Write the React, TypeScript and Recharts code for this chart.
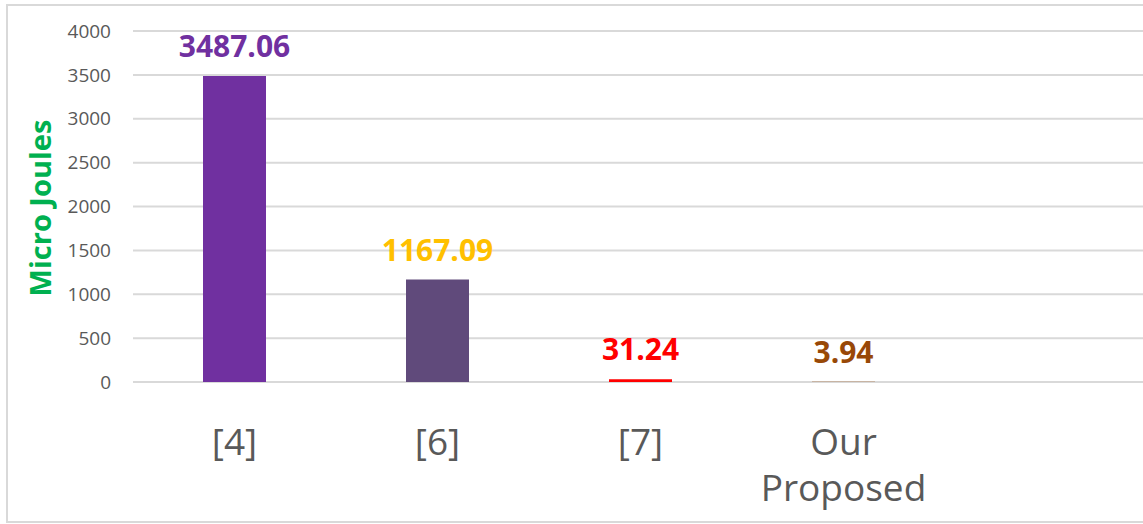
import React from 'react';
import { BarChart, Bar, XAxis, YAxis, CartesianGrid, Cell, LabelList } from 'recharts';

const categories = ['[4]', '[6]', '[7]', 'Our Proposed', ''];
const energyValues: (number | null)[] = [3487.06, 1167.09, 31.24, 3.94, null];
const barColors = ['#7030A0', '#604A7B', '#FF0000', '#984807', '#984807'];
const labelColors = ['#7030A0', '#FFC000', '#FF0000', '#984807', '#984807'];
const yTicks = [0, 500, 1000, 1500, 2000, 2500, 3000, 3500, 4000];
const yAxisTitle = 'Micro Joules';

const data = categories.map((c, i) => ({ name: c, value: energyValues[i] }));

const FONT = '"Open Sans", "Noto Sans", sans-serif';

const CategoryTick = (props: any) => {
  const { x, y, payload } = props;
  const words = String(payload.value).split(' ').filter((w) => w.length > 0);
  return (
    <g>
      {words.map((w, i) => (
        <text
          key={i}
          x={x}
          y={y + 73 + i * 46}
          textAnchor="middle"
          fill="#595959"
          fontSize={37}
          fontFamily={FONT}
        >
          {w}
        </text>
      ))}
    </g>
  );
};

const ValueLabel = (props: any) => {
  const { x, y, width, value, index } = props;
  if (value === null || value === undefined) return null;
  return (
    <text
      x={Number(x) + Number(width) / 2}
      y={Number(y) - 19}
      textAnchor="middle"
      fill={labelColors[index]}
      fontSize={30}
      fontWeight="bold"
      fontFamily={FONT}
    >
      {Number(value).toFixed(2)}
    </text>
  );
};

const YTitle = () => (
  <text
    x={51}
    y={208}
    transform="rotate(-90, 51, 208)"
    textAnchor="middle"
    fill="#00B050"
    fontSize={29}
    fontWeight="bold"
    fontFamily={FONT}
  >
    {yAxisTitle}
  </text>
);

export default function App() {
  return (
    <div
      style={{
        position: 'fixed',
        left: 0,
        top: 0,
        width: 1143,
        height: 524,
        overflow: 'hidden',
        background: '#ffffff',
      }}
    >
      <div
        style={{
          position: 'absolute',
          left: 6,
          top: 4,
          width: 1160,
          height: 519,
          border: '2px solid #d9d9d9',
          boxSizing: 'border-box',
        }}
      />
      <div style={{ position: 'absolute', left: 0, top: 0 }}>
        <BarChart
          width={1150}
          height={524}
          data={data}
          margin={{ top: 31, right: 2, bottom: 0, left: 0 }}
          barSize={63}
        >
          <CartesianGrid vertical={false} stroke="#d9d9d9" strokeWidth={2} />
          <XAxis
            dataKey="name"
            axisLine={false}
            tickLine={false}
            tickSize={0}
            tickMargin={0}
            height={142}
            interval={0}
            tick={<CategoryTick />}
          />
          <YAxis
            domain={[0, 4000]}
            ticks={yTicks}
            width={133}
            axisLine={false}
            tickLine={false}
            tickSize={0}
            tickMargin={22}
            tick={{ fill: '#595959', fontSize: 19, fontFamily: FONT }}
            label={<YTitle />}
          />
          <Bar dataKey="value" isAnimationActive={false}>
            {data.map((d, i) => (
              <Cell key={i} fill={barColors[i]} />
            ))}
            <LabelList dataKey="value" content={<ValueLabel />} />
          </Bar>
        </BarChart>
      </div>
    </div>
  );
}
